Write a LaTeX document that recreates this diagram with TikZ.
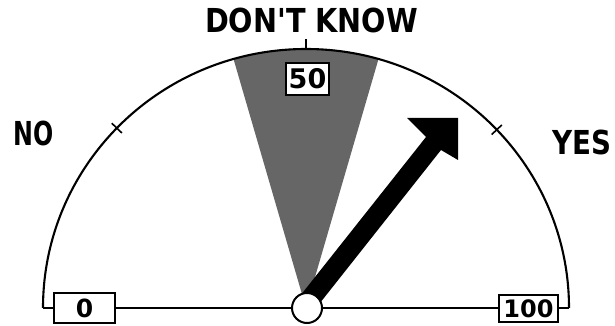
\documentclass[tikz,border=0pt]{standalone}
\usepackage{fontspec}
\usetikzlibrary{calc}
\newfontfamily\labelfont{DejaVu Sans Bold}
\begin{document}
\begin{tikzpicture}[x=1pt,y=1pt,
  ln/.style={line width=2.1pt,black},
  tick/.style={line width=1.6pt,black},
  lab/.style={font=\labelfont\fontsize{33}{33}\selectfont,anchor=base,inner sep=0pt},
  valbox/.style={draw,line width=2pt,fill=white,inner sep=0pt,font=\labelfont},
  hub/.style={circle,draw,line width=2pt,fill=white,minimum size=30pt,inner sep=0pt}]
\useasboundingbox (0,0) rectangle (615,326);
\coordinate (C) at (306,18);
% shaded wedge
\fill[black!60] (C) -- ++(74:263 and 259) arc[start angle=74,end angle=106,x radius=263,y radius=259] -- cycle;
% dial arc and baseline
\draw[ln] (43,18) coordinate (arcL) arc[start angle=180,end angle=0,x radius=263,y radius=259] coordinate (arcR);
\draw[ln] (arcL) -- (arcR);
% ticks
\draw[tick] ($(C)+(136:256 and 252)$) -- ($(C)+(136:270 and 266)$);
\draw[tick] ($(C)+(43.5:256 and 252)$) -- ($(C)+(43.5:270 and 266)$);
\draw[tick] ($(C)+(90:263 and 259)$) -- ($(C)+(90:263 and 269)$);
% value boxes
\node[valbox,minimum width=61pt,minimum height=30pt,font=\labelfont\fontsize{25}{25}\selectfont] (v0) at (84.5,18) {0};
\node[valbox,minimum width=59pt,minimum height=27pt,font=\labelfont\fontsize{24}{24}\selectfont] (v100) at (528.5,17.5) {100};
\node[valbox,minimum width=43pt,minimum height=32pt,font=\labelfont\fontsize{27}{27}\selectfont] (v50) at (307.5,247) {50};
% arrow
\fill[black] (300,30) -- (426,189) -- (407,208) -- (458,208) -- (458,166) -- (441,176) -- (316,18) -- cycle;
% hub
\node[hub] (hub) at (307,18) {};
% labels
\node[lab] (dk) at (311.5,293) {\scalebox{0.87}[1]{DON'T KNOW}};
\node[lab] (no) at (33.5,180) {\scalebox{0.72}[1]{NO}};
\node[lab] (yes) at (582,171) {\scalebox{0.84}[1]{YES}};
\end{tikzpicture}
\end{document}
